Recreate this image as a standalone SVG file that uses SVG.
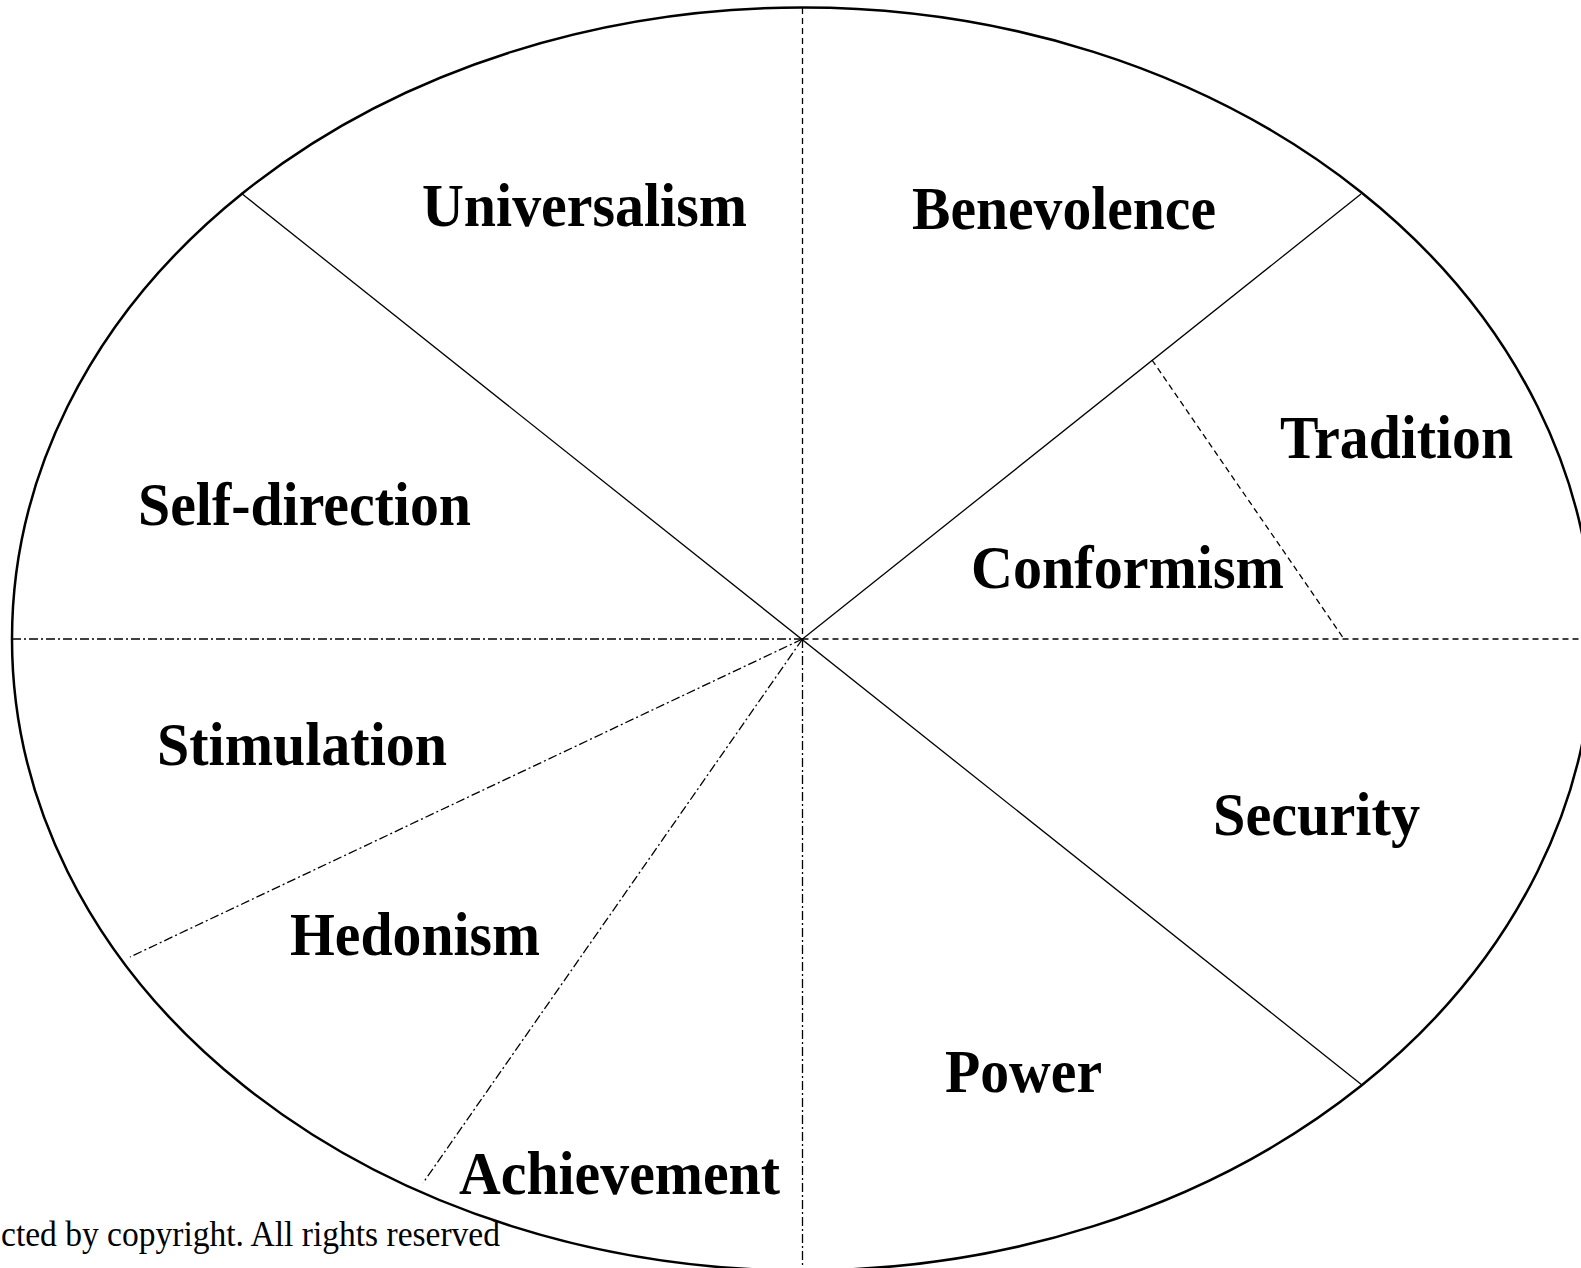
<svg xmlns="http://www.w3.org/2000/svg" width="1581" height="1268" viewBox="0 0 1581 1268">
  <style>
    .bg { fill: #ffffff; }
    .rim { fill: none; stroke: #000; stroke-width: 2.5; }
    .solid { fill: none; stroke: #000; stroke-width: 1.3; }
    .dash { fill: none; stroke: #000; stroke-width: 1.3; stroke-dasharray: 6 4; }
    .dashdot { fill: none; stroke: #000; stroke-width: 1.3; stroke-dasharray: 9 3 2 3; }
    .label { font-family: "Liberation Serif", "Times New Roman", serif; font-weight: bold; font-size: 61px; fill: #000; }
    .note { font-family: "Liberation Serif", "Times New Roman", serif; font-size: 36px; fill: #000; }
  </style>

  <rect class="bg" x="0" y="0" width="1581" height="1268"/>

  <!-- outer value circle -->
  <g id="circle">
    <ellipse class="rim" cx="802.5" cy="639" rx="790.5" ry="631.5"/>
  </g>

  <!-- sector dividers -->
  <g id="connectors">
    <line class="dash" x1="802.5" y1="8" x2="802.5" y2="639"/>
    <line class="dashdot" x1="802.5" y1="639" x2="802.5" y2="1268"/>
    <line class="dashdot" x1="12" y1="639" x2="802.5" y2="639"/>
    <line class="dash" x1="802.5" y1="639" x2="1581" y2="639"/>
    <line class="solid" x1="241" y1="193" x2="1362" y2="1085"/>
    <line class="solid" x1="802.5" y1="639" x2="1361" y2="194"/>
    <line class="dash" x1="1152" y1="360" x2="1344" y2="639"/>
    <line class="dashdot" x1="802.5" y1="639" x2="130" y2="957"/>
    <line class="dashdot" x1="802.5" y1="639" x2="423" y2="1183"/>
  </g>

  <g id="universalism"><text class="label" x="422" y="226" textLength="325" lengthAdjust="spacingAndGlyphs">Universalism</text></g>
  <g id="benevolence"><text class="label" x="912" y="229" textLength="304" lengthAdjust="spacingAndGlyphs">Benevolence</text></g>
  <g id="tradition"><text class="label" x="1280" y="458" textLength="233" lengthAdjust="spacingAndGlyphs">Tradition</text></g>
  <g id="conformism"><text class="label" x="971" y="588" textLength="313" lengthAdjust="spacingAndGlyphs">Conformism</text></g>
  <g id="self-direction"><text class="label" x="138" y="525" textLength="333" lengthAdjust="spacingAndGlyphs">Self-direction</text></g>
  <g id="stimulation"><text class="label" x="157" y="765" textLength="290" lengthAdjust="spacingAndGlyphs">Stimulation</text></g>
  <g id="security"><text class="label" x="1213" y="835" textLength="207" lengthAdjust="spacingAndGlyphs">Security</text></g>
  <g id="hedonism"><text class="label" x="290" y="955" textLength="250" lengthAdjust="spacingAndGlyphs">Hedonism</text></g>
  <g id="power"><text class="label" x="945" y="1092" textLength="157" lengthAdjust="spacingAndGlyphs">Power</text></g>
  <g id="achievement"><text class="label" x="459" y="1194" textLength="321" lengthAdjust="spacingAndGlyphs">Achievement</text></g>

  <!-- footer notice -->
  <g id="notice">
    <text class="note" x="1" y="1246" textLength="499" lengthAdjust="spacingAndGlyphs">cted by copyright. All rights reserved</text>
  </g>
</svg>
